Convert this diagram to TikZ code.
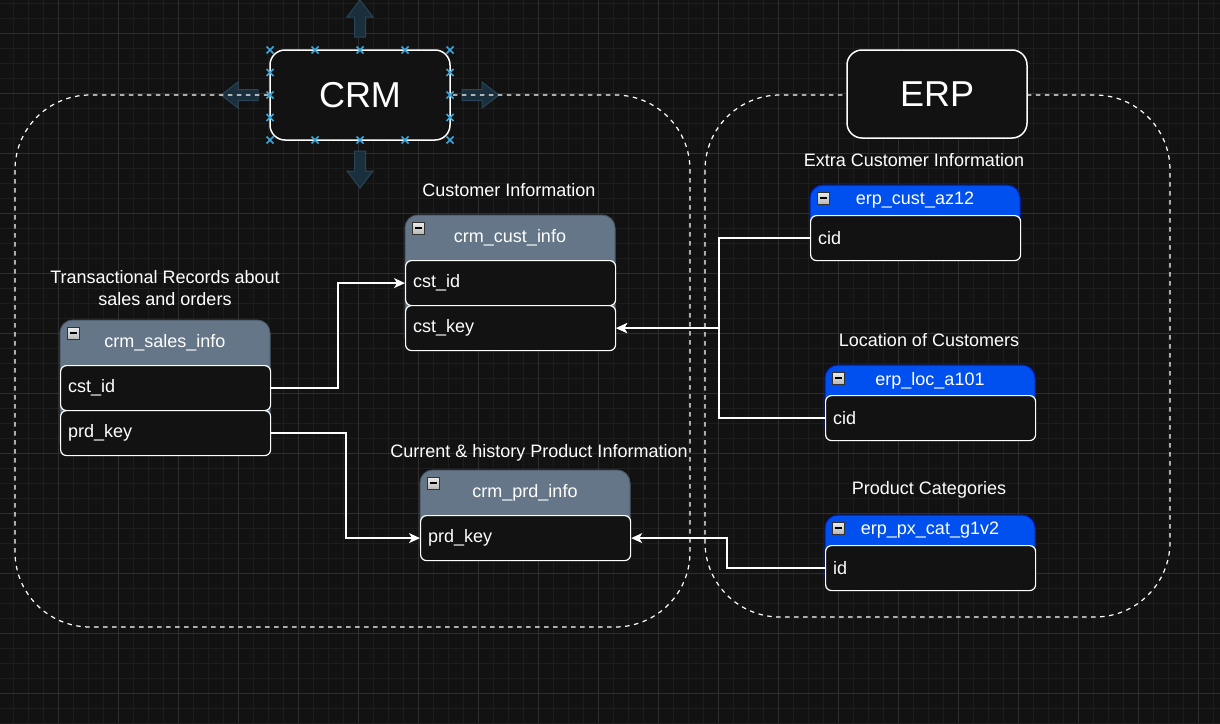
\documentclass[tikz,border=0pt]{standalone}
\usepackage{fontspec}
\setmainfont{Liberation Sans}
\usepackage{tikz}
\usetikzlibrary{arrows.meta}
\definecolor{bg}{HTML}{121212}
\definecolor{gridminor}{HTML}{1D1D1D}
\definecolor{gridmajor}{HTML}{2E2E2E}
\definecolor{slate}{HTML}{647687}
\definecolor{slateline}{HTML}{4A5A6B}
\definecolor{erpblue}{HTML}{0050EF}
\definecolor{erpline}{HTML}{001DBC}
\definecolor{handleblue}{HTML}{3AA8DE}
\definecolor{hoverfill}{HTML}{1A2F3C}
\definecolor{hoverline}{HTML}{294455}

\begin{document}
\begin{tikzpicture}[x=1pt, y=-1pt, font=\fontsize{18}{22}\selectfont, text=white,
  titlebox/.style={draw=white, line width=1.5pt, fill=bg, rounded corners=15pt, minimum width=180pt, font=\fontsize{36}{40}\selectfont},
  group/.style={draw=white, line width=1.2pt, dash pattern=on 4.5pt off 4.5pt, rounded corners=75pt},
  fieldbox/.style={draw=white, fill=bg, line width=1.2pt, rounded corners=6pt, minimum width=210pt, minimum height=45pt, anchor=north west, inner sep=0pt},
  handle/.style={draw=handleblue, line width=1.6pt},
  hover/.style={fill=hoverfill, draw=hoverline, line width=1pt},
  link/.style={draw=white, line width=1.5pt, -{Stealth[length=11pt, width=10pt, inset=3pt]}}]
\fill[bg] (0,0) rectangle (1220,723);
\useasboundingbox (0,0) rectangle (1220,723);
\foreach \gx in {-2,13,...,1220} \draw[gridminor, line width=1pt] (\gx,0) -- (\gx,723);
\foreach \gy in {3,18,...,723} \draw[gridminor, line width=1pt] (0,\gy) -- (1220,\gy);
\foreach \gx in {58,118,...,1220} \draw[gridmajor, line width=1pt] (\gx,0) -- (\gx,723);
\foreach \gy in {33,93,...,723} \draw[gridmajor, line width=1pt] (0,\gy) -- (1220,\gy);

\filldraw[hover] (354.5,37) -- (354.5,17) -- (347,17) -- (360,0) -- (373,17) -- (365.5,17) -- (365.5,37) -- cycle;
\filldraw[hover] (354.5,151) -- (354.5,171) -- (347,171) -- (360,188) -- (373,171) -- (365.5,171) -- (365.5,151) -- cycle;
\filldraw[hover] (258,89.5) -- (238,89.5) -- (238,82) -- (221,95) -- (238,108) -- (238,100.5) -- (258,100.5) -- cycle;
\filldraw[hover] (462,89.5) -- (482,89.5) -- (482,82) -- (499,95) -- (482,108) -- (482,100.5) -- (462,100.5) -- cycle;

\draw[group] (15,95) rectangle (690,627);
\draw[group] (705,95) rectangle (1170,617);
\node[titlebox, minimum height=90pt] (crm) at (360,95) {CRM};
\node[titlebox, minimum height=88pt] (erp) at (937,94) {ERP};

\foreach \hx/\hy in {270/50, 315/50, 360/50, 405/50, 450/50, 270/140, 315/140, 360/140, 405/140, 450/140,
  270/72.5, 270/95, 270/117.5, 450/72.5, 450/95, 450/117.5}
  \draw[handle] (\hx-3.5,\hy-3.5) -- (\hx+3.5,\hy+3.5) (\hx-3.5,\hy+3.5) -- (\hx+3.5,\hy-3.5);

\foreach \nm/\ttl/\tx/\ty/\th/\hh/\col/\edge in {
  cust/crm\_cust\_info/405/215/135/45/slate/slateline,
  sales/crm\_sales\_info/60/320/135/45/slate/slateline,
  prd/crm\_prd\_info/420/470/90/45/slate/slateline,
  az/erp\_cust\_az12/810/185/75/30/erpblue/erpline,
  loc/erp\_loc\_a101/825/365/75/30/erpblue/erpline,
  cat/erp\_px\_cat\_g1v2/825/515/75/30/erpblue/erpline} {
  \filldraw[fill=\col, draw=\edge, line width=1pt, rounded corners=13pt] (\tx,\ty) rectangle ++(210,\th);
  \node (\nm) at (\tx+105,\ty+\hh/2+0.5) {\ttl};
  \draw[top color=gray!15, bottom color=gray!55, draw=gray!40!black, line width=0.6pt] (\tx+7,\ty+7) rectangle ++(12,12);
  \draw[black, line width=1.6pt] (\tx+9.5,\ty+13) -- ++(7,0);
}

\foreach \nm/\fld/\fx/\fy in {custid/cst\_id/405/260, custkey/cst\_key/405/305, salesid/cst\_id/60/365,
  salesprd/prd\_key/60/410, prdkey/prd\_key/420/515, azcid/cid/810/215, loccid/cid/825/395, catid/id/825/545} {
  \node[fieldbox] (\nm) at (\fx,\fy) {};
  \node[anchor=west, inner xsep=0pt] (\nm-t) at ([xshift=8pt]\nm.west) {\fld};
}

\draw[link] (salesid.east) -- ++(67,0) |- (custid.west);
\draw[link] (salesprd.east) -- ++(75,0) |- (prdkey.west);
\draw[link] (azcid.west) -- ++(-91,0) |- (custkey.east);
\draw[link] (loccid.west) -- ++(-106,0) |- (custkey.east);
\draw[link] (catid.west) -- ++(-98,0) |- (prdkey.east);

\node (custlbl) at (509,190) {Customer Information};
\node[align=center] (saleslbl) at (165,288) {Transactional Records about\\sales and orders};
\node (prdlbl) at (539,453) {Current \& history Product Information};
\node (azlbl) at (914,160) {Extra Customer Information};
\node (loclbl) at (929,340) {Location of Customers};
\node (catlbl) at (929,490) {Product Categories};
\end{tikzpicture}
\end{document}
